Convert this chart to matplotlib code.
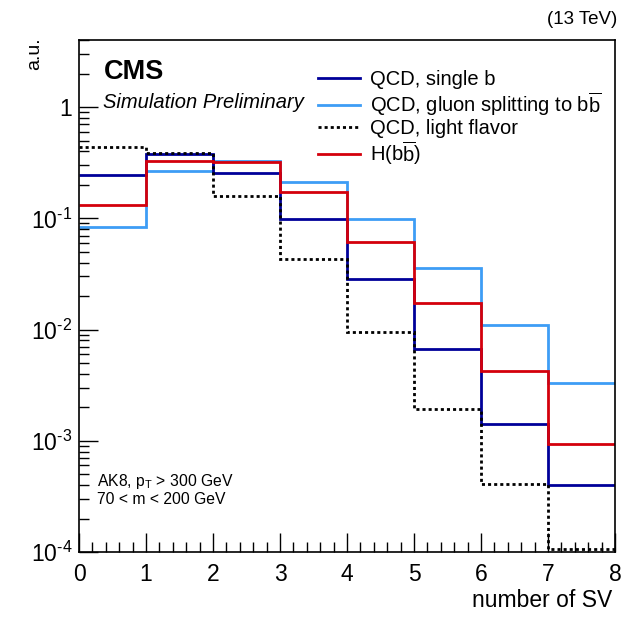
import numpy as np
import matplotlib
matplotlib.use("Agg")
import matplotlib.pyplot as plt
from matplotlib.ticker import LogLocator, NullFormatter, MultipleLocator
from matplotlib.lines import Line2D

plt.rcParams['font.family'] = ['Liberation Sans', 'DejaVu Sans']
plt.rcParams['mathtext.fontset'] = 'custom'
plt.rcParams['mathtext.rm'] = 'Liberation Sans'
plt.rcParams['mathtext.it'] = 'Liberation Sans:italic'

# bin edges: number of secondary vertices
edges = np.arange(0, 9)

single_b = [0.245, 0.38, 0.257, 0.0986, 0.0283, 0.0067, 0.00142, 0.000398]
gluon_split = [0.0835, 0.264, 0.33, 0.213, 0.098, 0.0355, 0.0109, 0.00329]
light_flavor = [0.44, 0.39, 0.16, 0.0434, 0.0096, 0.00195, 0.00041, 0.000106]
hbb = [0.132, 0.327, 0.32, 0.171, 0.0616, 0.0175, 0.00427, 0.00094]

labels = ["QCD, single b",
          r"QCD, gluon splitting to b$\mathregular{\overline{b}}$",
          "QCD, light flavor",
          r"H(b$\mathregular{\overline{b}}$)"]
colors = ['#000099', '#3d9df5', 'black', '#d4000c']
dotted = (0, (1.1, 1.1))

fig = plt.figure(figsize=(6.3, 6.17), dpi=100)
ax = fig.add_axes([0.1254, 0.1053, 0.8508, 0.8297])

lw = 2.0
ax.stairs(gluon_split, edges, baseline=None, color=colors[1], lw=lw)
ax.stairs(single_b, edges, baseline=None, color=colors[0], lw=lw)
ax.stairs(light_flavor, edges, baseline=None, color=colors[2], lw=lw,
          linestyle=dotted)
ax.stairs(hbb, edges, baseline=None, color=colors[3], lw=lw)

ax.set_yscale('log')
ax.set_xlim(0, 8)
ax.set_ylim(1e-4, 4.0)

# ROOT-like ticks
ax.xaxis.set_major_locator(MultipleLocator(1))
ax.xaxis.set_minor_locator(MultipleLocator(0.2))
ax.yaxis.set_minor_locator(LogLocator(base=10, subs=np.arange(2, 10), numticks=20))
ax.yaxis.set_minor_formatter(NullFormatter())
ax.tick_params(which='both', direction='in', top=False, right=False,
               labelsize=16.5, width=1)
ax.tick_params(which='major', length=14)
ax.tick_params(axis='x', which='major', pad=8)
ax.tick_params(axis='y', which='major', pad=5)
ax.tick_params(which='minor', length=7)
ax.set_yticks([1e-4, 1e-3, 1e-2, 1e-1, 1])
ax.set_yticklabels([r'$\mathregular{10^{\text{-}4}}$', r'$\mathregular{10^{\text{-}3}}$',
                    r'$\mathregular{10^{\text{-}2}}$', r'$\mathregular{10^{\text{-}1}}$', '1'])
for sp in ax.spines.values():
    sp.set_linewidth(1.2)

ax.set_xlabel("number of SV", fontsize=16.5, ha='right', va='center')
ax.xaxis.set_label_coords(0.994, -0.094)
ax.set_ylabel("a.u.", fontsize=14, ha='right', va='center')
ax.yaxis.set_label_coords(-0.082, 1.006)

ax.text(0.046, 0.9375, "CMS", transform=ax.transAxes, fontsize=19.5,
        fontweight='bold', va='center')
ax.text(0.045, 0.879, "Simulation Preliminary", transform=ax.transAxes,
        fontsize=14.5, style='italic', va='center')
fig.text(0.979, 0.968, "(13 TeV)", ha='right', va='center', fontsize=13.5)

ax.text(0.034, 0.137, r"AK8, p$\mathregular{_T}$ > 300 GeV",
        transform=ax.transAxes, fontsize=11.3, va='center')
ax.text(0.034, 0.102, r"70 < m < 200 GeV", transform=ax.transAxes,
        fontsize=11.3, va='center')

handles = [Line2D([], [], color=c, lw=lw, linestyle=dotted if c == 'black' else '-')
           for c in colors]
ax.legend(handles, labels, loc='upper left', bbox_to_anchor=(0.43, 0.958),
          frameon=False, fontsize=14.5, handlelength=2.1, handletextpad=0.5,
          labelspacing=0.06, borderaxespad=0)

fig.savefig("out.png", dpi=100)
